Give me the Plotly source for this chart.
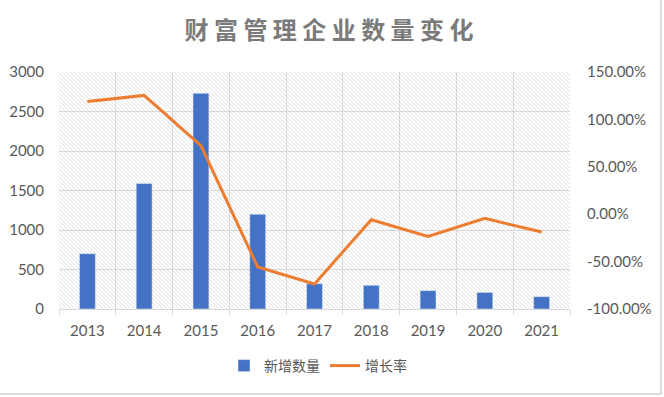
import plotly.graph_objects as go

years = ["2013", "2014", "2015", "2016", "2017", "2018", "2019", "2020", "2021"]
new_count = [700, 1590, 2730, 1200, 320, 300, 232, 210, 156]
growth = [1.19, 1.253, 0.723, -0.557, -0.736, -0.058, -0.234, -0.044, -0.188]

left_ticks = [0, 500, 1000, 1500, 2000, 2500, 3000]
right_ticks = [-1.0, -0.5, 0.0, 0.5, 1.0, 1.5]
right_tick_labels = [f"{v * 100:.2f}%" for v in right_ticks]

title_text = "财 富 管 理 企 业 数 量 变 化"
bar_name = "新增数量"
line_name = "增长率"

FIG_W, FIG_H = 664, 397
ML, MR, MT, MB = 59, 94, 72, 88
PW = FIG_W - ML - MR
PH = FIG_H - MT - MB

grid_c = "#d9d9d9"
txt_c = "#595959"
font_fam = "Lato, 'Noto Sans CJK SC', sans-serif"

fig = go.Figure()
fig.add_trace(go.Bar(x=years, y=new_count, name=bar_name, marker_color="#4472C4",
                     yaxis="y"))
fig.add_trace(go.Scatter(x=years, y=growth, name=line_name, mode="lines",
                         line=dict(color="#ED7D31", width=3), yaxis="y2"))

# hatch background (decoration) drawn as one path in paper coords
step = 4.0
segs = []
c = step
while c < PW + PH:
    x0 = max(0.0, c - PH)
    x1 = min(float(PW), c)
    y0 = c - x0
    y1 = c - x1
    segs.append(f"M{x0/PW:.5f},{y0/PH:.5f}L{x1/PW:.5f},{y1/PH:.5f}")
    c += step
hatch_path = "".join(segs)

bx = (661 - ML) / PW
by = (FIG_H - MB - 394) / PH
shapes = [
    dict(type="path", xref="paper", yref="paper", path=hatch_path,
         line=dict(color="#d9d9d9", width=0.8), layer="below"),
    dict(type="line", xref="paper", yref="paper",
         x0=bx, x1=bx, y0=(FIG_H - MB) / PH, y1=by,
         line=dict(color="#d0d0d0", width=1.5), layer="above"),
    dict(type="line", xref="paper", yref="paper",
         x0=-ML / PW, x1=bx, y0=by, y1=by,
         line=dict(color="#d0d0d0", width=1.5), layer="above"),
]

fig.update_layout(
    width=FIG_W, height=FIG_H,
    margin=dict(l=ML, r=MR, t=MT, b=MB, pad=0, autoexpand=False),
    paper_bgcolor="white", plot_bgcolor="rgba(0,0,0,0)",
    font=dict(family=font_fam, size=15, color=txt_c),
    title=dict(text=title_text, x=329 / FIG_W, xref="container",
               xanchor="center", y=1 - 31 / FIG_H, yref="container", yanchor="middle",
               font=dict(family="'Noto Sans CJK SC', sans-serif", size=24, color="#7a7a7a",
                         weight="bold")),
    bargap=0.72,
    showlegend=True,
    legend=dict(orientation="h", x=318 / FIG_W, xref="container", xanchor="center",
                y=1 - 366 / FIG_H, yref="container", yanchor="middle",
                font=dict(size=14, color=txt_c, family="'Noto Sans CJK SC', sans-serif"),
                itemwidth=30, tracegroupgap=0),
    xaxis=dict(type="category", tickson="boundaries", showgrid=True, gridcolor=grid_c,
               gridwidth=1, ticks="outside", ticklen=5, tickcolor=grid_c,
               showline=True, linecolor=grid_c, linewidth=1, mirror=False,
               tickfont=dict(size=15, color=txt_c), ticklabelstandoff=8, automargin=False),
    yaxis=dict(range=[0, 3000], tickvals=left_ticks, showgrid=True, gridcolor=grid_c,
               gridwidth=1, zeroline=False, showline=False,
               tickfont=dict(size=15, color=txt_c), ticklabelstandoff=14, automargin=False),
    yaxis2=dict(range=[-1, 1.5], tickvals=right_ticks, ticktext=right_tick_labels,
                overlaying="y", side="right", showgrid=False, zeroline=False, showline=False,
                tickfont=dict(size=15, color=txt_c), ticklabelstandoff=16, automargin=False),
    shapes=shapes,
)

fig.write_html("out.html", config={"displayModeBar": False},
               post_script="document.body.style.margin='0';")
